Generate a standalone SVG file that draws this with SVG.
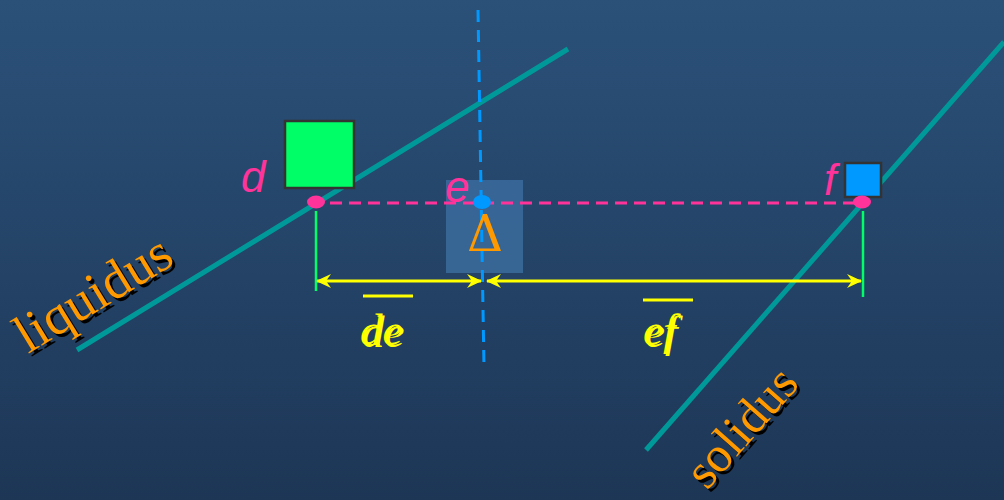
<svg xmlns="http://www.w3.org/2000/svg" width="1004" height="500" viewBox="0 0 1004 500">
<defs>
<linearGradient id="bg" x1="0" y1="0" x2="0" y2="1">
<stop offset="0" stop-color="#2b5179"/>
<stop offset="1" stop-color="#1d3656"/>
</linearGradient>
<marker id="ah" viewBox="0 0 15 14" refX="14" refY="7" markerWidth="15" markerHeight="14" markerUnits="userSpaceOnUse" orient="auto-start-reverse">
<path d="M0,0 L15,7 L0,14 L5,7 Z" fill="#ffff00"/>
</marker>
<style>
.phase{stroke:#009999;stroke-width:5;fill:none}
.tie{stroke:#ff3399;stroke-width:3;stroke-dasharray:12 7;fill:none}
.vert{stroke:#0099ff;stroke-width:3;stroke-dasharray:12 8;fill:none}
.green{stroke:#00ff66;stroke-width:2.5}
.dim{stroke:#ffff00;stroke-width:3;fill:none}
.pt{font-family:"Liberation Sans",Arial,sans-serif;font-style:italic;font-size:44px;fill:#ff3399}
.lab{font-family:"Liberation Serif","Times New Roman",serif;font-size:54px;fill:#ff9900}
.sh{fill:#000}
.seg{font-family:"Liberation Serif","Times New Roman",serif;font-style:italic;font-size:45px;fill:#ffff00}
</style>
</defs>
<rect width="1004" height="500" fill="url(#bg)"/>
<g id="connectors">
<line class="phase" x1="77" y1="350" x2="568" y2="49"/>
<line class="phase" x1="646" y1="450" x2="1004" y2="42"/>
<rect x="446" y="180" width="77" height="93" fill="#3b6c9e" opacity="0.85"/>
<line class="vert" x1="478" y1="10" x2="484" y2="368"/>
<line class="tie" x1="330" y1="203" x2="858" y2="203"/>
<line class="green" x1="316" y1="211" x2="316" y2="291"/>
<line class="green" x1="863" y1="211" x2="863" y2="297"/>
<line class="dim" x1="317" y1="281" x2="481" y2="281" marker-start="url(#ah)" marker-end="url(#ah)"/>
<line class="dim" x1="487" y1="281" x2="861" y2="281" marker-start="url(#ah)" marker-end="url(#ah)"/>
<line class="dim" x1="363" y1="296" x2="413" y2="296"/>
<line class="dim" x1="643" y1="300" x2="693" y2="300"/>
</g>
<g id="node-d">
<rect x="285" y="121" width="69" height="67" fill="#00ff66" stroke="#333333" stroke-width="2.5"/>
<ellipse cx="316" cy="202" rx="9" ry="6.5" fill="#ff3399"/>
<text class="pt" x="241" y="192">d</text>
</g>
<g id="node-e">
<ellipse cx="482" cy="202" rx="9" ry="7" fill="#0099ff"/>
<text class="pt" x="445" y="202">e</text>
<text x="485" y="251" text-anchor="middle" font-family="'DejaVu Serif','Liberation Serif',serif" font-size="50" fill="#ff9900">Δ</text>
</g>
<g id="node-f">
<rect x="845" y="163" width="36" height="34" fill="#0099ff" stroke="#333333" stroke-width="2.5"/>
<ellipse cx="862" cy="202" rx="9" ry="6.5" fill="#ff3399"/>
<text class="pt" x="824" y="195">f</text>
</g>
<g id="labels">
<text class="seg sh" x="362" y="347">de</text>
<text class="seg" x="360" y="345">de</text>
<text class="seg sh" x="645" y="347">ef</text>
<text class="seg" x="643" y="345">ef</text>
<text class="lab sh" transform="translate(31,357) rotate(-31.5)">liquidus</text>
<text class="lab" transform="translate(28,354) rotate(-31.5)">liquidus</text>
<text class="lab sh" transform="translate(710,494) rotate(-48.7)" style="font-size:50px">solidus</text>
<text class="lab" transform="translate(707,491) rotate(-48.7)" style="font-size:50px">solidus</text>
</g>
</svg>
